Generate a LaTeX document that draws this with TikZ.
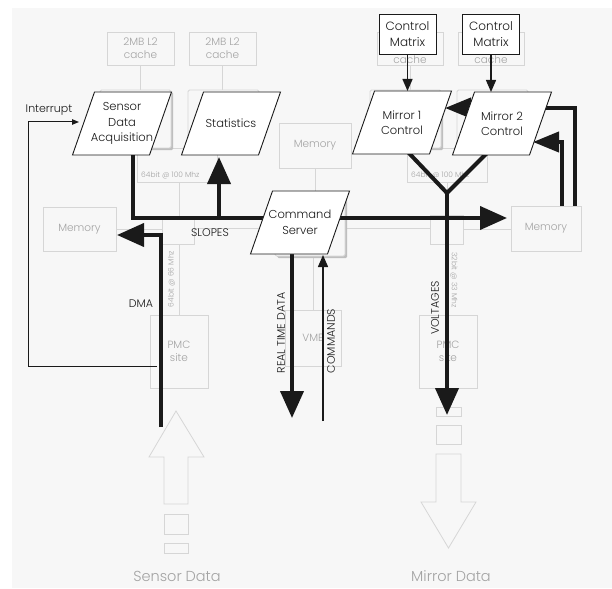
\documentclass[tikz,border=0pt]{standalone}
\usepackage{fontspec}
\setmainfont{Poppins}[UprightFont={* Light}]
\usetikzlibrary{arrows.meta,calc}
\definecolor{bgc}{HTML}{F7F7F7}
\definecolor{fline}{HTML}{D6D6D6}
\definecolor{ftxt}{HTML}{A3A3A3}
\definecolor{shad}{HTML}{BEBEBE}
\definecolor{ink}{HTML}{1A1A1A}
\newcommand\parabx[4]{%
  \filldraw[pshape] (#2-38.5-11,#3+31.5) -- (#2+38.5-11,#3+31.5) -- (#2+38.5+11,#3-31.5) -- (#2-38.5+11,#3-31.5) -- cycle;
  \node[ptext] (#1) at (#2,#3) {#4};}
\newcommand\procbx[5]{%
  \fill[shad,rounded corners=1.5] (#2+2.2,#3+2.2) rectangle (#4+2.2,#5+2.2);
  \filldraw[fill=bgc,draw=fline,line width=0.8,rounded corners=1.5] (#2,#3) rectangle (#4,#5);
  \coordinate (#1) at ($(#2,#3)!0.5!(#4,#5)$);}
\begin{document}
\begin{tikzpicture}[x=1pt,y=-1pt,
  fbox/.style={draw=fline,line width=0.8,fill=bgc},
  fl/.style={draw=fline,line width=0.8},
  ftext/.style={text=ftxt,font=\fontsize{10.5}{13}\selectfont,align=center,inner sep=0},
  fsmall/.style={text=ftxt,font=\fontsize{7.5}{9}\selectfont,inner sep=0},
  pshape/.style={draw=ink,fill=white,line width=0.9},
  ptext/.style={text=ink,font=\fontsize{11.5}{15.5}\selectfont,align=center,inner sep=0},
  lbl/.style={text=ink,font=\fontsize{11}{13}\selectfont,inner sep=0},
  thick/.style={draw=ink,line width=4},
  thin/.style={draw=ink,line width=1.4},
  bigtip/.style={-{Triangle[length=27pt,width=23pt]}},
  midtip/.style={-{Triangle[length=26pt,width=20pt]}},
  smalltip/.style={-{Triangle[length=12pt,width=10pt]}},
  tinytip/.style={-{Triangle[length=7pt,width=5.5pt]}},
  bigtext/.style={text=ftxt,font=\fontsize{14.5}{17}\selectfont,inner sep=0},
  mbox/.style={draw=ink,fill=white,line width=0.9,minimum width=57,minimum height=40,inner sep=0,align=center,text=ink,font=\fontsize{12}{16}\selectfont},
]
\useasboundingbox (0,0) rectangle (612,588);
\fill[bgc] (12,8) rectangle (612,588);

% ---------- faint hardware layer ----------
\draw[fl] (140.5,65) -- (140.5,90);
\draw[fl] (222.5,65) -- (222.5,90);
\draw[fl] (410,65) -- (410,90);
\draw[fl] (491,65) -- (491,90);
\draw[fl] (137,148) rectangle (217,182);
\draw[fl] (407,148) rectangle (487,182);
\draw[fl] (179,182) -- (179,216);
\draw[fl] (447,182) -- (447,215);
\draw[fl] (116,229) -- (162,229);
\draw[fl] (194,228) -- (430,228);
\draw[fl] (463,229) -- (511,229);
\draw[fl] (179,244) -- (179,315);
\draw[fl] (447,244) -- (447,315);
\draw[fl] (315,168) -- (315,198);
\draw[fl] (313,256) -- (313,310);

% caches
\node[fbox,minimum width=67,minimum height=33,inner sep=0] (c1) at (140.5,48.5) {};
\node[fbox,minimum width=67,minimum height=33,inner sep=0] (c2) at (222.5,48.5) {};
\node[fbox,minimum width=66,minimum height=33,inner sep=0] (c3) at (410,48.5) {};
\node[fbox,minimum width=66,minimum height=33,inner sep=0] (c4) at (491,48.5) {};
\node[ftext] (c1t) at (c1) {2MB L2\\cache};
\node[ftext] (c2t) at (c2) {2MB L2\\cache};
\node[ftext,anchor=north] (c3t) at (410,55.5) {cache};
\node[ftext,anchor=north] (c4t) at (491,55.5) {cache};

% processor boxes
\procbx{p1}{100}{90}{171}{148}
\procbx{p2}{188}{90}{259}{148}
\procbx{p3}{370}{90}{441}{148}
\procbx{p4}{457}{90}{528}{148}
\procbx{p5}{275}{198}{345}{256}

% bridges
\node[fbox,minimum width=32,minimum height=28,inner sep=0] (br1) at (178,230) {};
\node[fbox,minimum width=33,minimum height=29,inner sep=0] (br2) at (446.5,229.5) {};

% memories
\node[fbox,minimum width=72,minimum height=45,inner sep=0] (m0) at (315,145.5) {};
\node[ftext] (m0t) at (m0) {Memory};
\node[fbox,minimum width=73,minimum height=44,inner sep=0] (m1) at (79.5,229) {};
\node[ftext] (m1t) at (m1) {Memory};
\node[fbox,minimum width=70,minimum height=45,inner sep=0] (m2) at (546,228.5) {};
\node[ftext] (m2t) at (m2) {Memory};

% PMC / VME
\node[fbox,minimum width=58,minimum height=73,inner sep=0] (pmc1) at (179,351.5) {};
\node[ftext] (pmc1t) at (pmc1) {PMC\\site};
\node[fbox,minimum width=58,minimum height=73,inner sep=0] (pmc2) at (448,351.5) {};
\node[ftext] (pmc2t) at (pmc2) {PMC\\site};
\node[fbox,minimum width=56,minimum height=56,inner sep=0] (vme) at (313,338) {};
\node[ftext] (vmet) at (vme) {VME};

% bus labels
\node[fsmall,anchor=west] (b1) at (141,175) {64bit @ 100 Mhz};
\node[fsmall,anchor=west] (b2) at (411,175) {64bit @ 100 Mhz};
\node[fsmall,rotate=90] (b3) at (171.5,279) {64bit @ 66 Mhz};
\node[fsmall,rotate=-90] (b4) at (454,280) {32bit @ 33 Mhz};

% sensor data input arrow
\draw[fl,fill=bgc] (176,411) -- (204,457) -- (188,457) -- (188,504) -- (164,504) -- (164,457) -- (149,457) -- cycle;
\node[fbox,minimum width=24,minimum height=20,inner sep=0] (sd1) at (176,524) {};
\node[fbox,minimum width=24,minimum height=10,inner sep=0] (sd2) at (176,548) {};
\node[bigtext] (sdt) at (177,576.5) {Sensor Data};

% mirror data output arrow
\node[fbox,minimum width=25,minimum height=9,inner sep=0] (md1) at (448.5,411.5) {};
\node[fbox,minimum width=25,minimum height=19,inner sep=0] (md2) at (448.5,434.5) {};
\draw[fl,fill=bgc] (436,454) -- (461,454) -- (461,502) -- (476,502) -- (448.5,548) -- (421,502) -- (436,502) -- cycle;
\node[bigtext] (mdt) at (451,576.5) {Mirror Data};

% ---------- black functional layer ----------
\coordinate (busL) at (133,218);
\coordinate (busR) at (507,218);
\coordinate (dmaB) at (161,427);
\coordinate (dmaC) at (161,235);
\coordinate (memLtip) at (117,235);
\coordinate (statB) at (219,218);
\coordinate (yj) at (447,193);
\coordinate (voltTip) at (447,415);
\coordinate (rtTip) at (292,418);
\coordinate (cmdB) at (323,421);
\coordinate (irqS) at (157,366);

\draw[thick,bigtip] (133,150) -- (busL) -- (busR);
\draw[thick,bigtip] (statB) -- (219,157);
\draw[thick,bigtip,line join=miter] (dmaB) -- (dmaC) -- (memLtip);
\draw[thick] (406,150) -- (yj);
\draw[thick] (490,150) -- (yj);
\draw[thick,bigtip] (yj) -- (voltTip);
\draw[thick,bigtip] (292,250) -- (rtTip);
\draw[thin,smalltip] (cmdB) -- (323,255);
\draw[thick,midtip] (485,108) -- (445,108);
\draw[thick,line join=miter] (535,108) -- (575,108) -- (575,206);
\draw[thick,midtip,line join=miter] (562,206) -- (562,142) -- (533,142);
\draw[draw=ink,line width=1,tinytip] (irqS) -- (28,366) -- (28,122) -- (79,122);

% parallelograms
\parabx{sda}{122}{123.5}{Sensor\\Data\\Acquisition}
\parabx{stat}{231}{123.5}{Statistics}
\parabx{cs}{300}{222.5}{Command\\Server}
\parabx{mc1}{402}{122.5}{Mirror 1\\Control}
\parabx{mc2}{502}{123.5}{Mirror 2\\Control}

% control matrix boxes
\node[mbox] (cm1) at (407.5,34) {Control\\Matrix};
\node[mbox] (cm2) at (491,34) {Control\\Matrix};
\draw[thin,smalltip] (cm1.south) -- (407.5,91);
\draw[thin,smalltip] (cm2.south) -- (491,92);

% labels
\node[lbl] (irq) at (49,110) {Interrupt};
\node[lbl] (slopes) at (210,233) {SLOPES};
\node[lbl] (dma) at (141,304) {DMA};
\node[lbl,rotate=90] (rtd) at (281,333) {REAL TIME DATA};
\node[lbl,rotate=90] (cmds) at (331,341) {COMMANDS};
\node[lbl,rotate=90] (volt) at (435,308) {VOLTAGES};
\end{tikzpicture}
\end{document}
